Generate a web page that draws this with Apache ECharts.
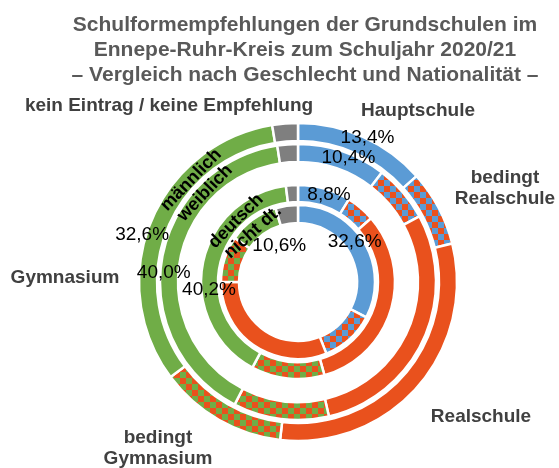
<!DOCTYPE html>
<html>
<head>
<meta charset="utf-8">
<script src="https://cdn.jsdelivr.net/npm/echarts@6/dist/echarts.min.js"></script>
<style>
  html, body { margin: 0; padding: 0; background: #fff; }
  #chart { width: 559px; height: 468px; }
</style>
</head>
<body>
<div id="chart"></div>
<script>
// Kategorien (im Uhrzeigersinn ab 12 Uhr)
const categories = ['Hauptschule', 'bedingt Realschule', 'Realschule', 'bedingt Gymnasium', 'Gymnasium', 'kein Eintrag / keine Empfehlung']
const rings = ['männlich', 'weiblich', 'deutsch', 'nicht dt.']

// Anteile in Prozent je Ring
const maennlich = [13.4, 7.7, 30.7, 13.0, 32.6, 2.6]
const weiblich = [10.4, 6.7, 29.3, 11.2, 40.0, 2.4]
const deutsch = [8.8, 4.8, 32.0, 12.2, 40.2, 2.0]
const nichtDt = [32.6, 11.4, 31.0, 9.7, 10.6, 4.7]

const BLUE = '#5B9BD5'
const ORANGE = '#E9511D'
const GREEN = '#70AD47'
const GRAY = '#7F7F7F'

// Schachbrettmuster für "bedingt ..."
function checker(c1, c2) {
  const size = 6
  const cv = document.createElement('canvas')
  cv.width = size * 2
  cv.height = size * 2
  const ctx = cv.getContext('2d')
  ctx.fillStyle = c1
  ctx.fillRect(0, 0, size * 2, size * 2)
  ctx.fillStyle = c2
  ctx.fillRect(size, 0, size, size)
  ctx.fillRect(0, size, size, size)
  return { image: cv, repeat: 'repeat' }
}

const colors = [BLUE, checker(BLUE, ORANGE), ORANGE, checker(GREEN, ORANGE), GREEN, GRAY]

const center = [298, 282]
const radii = [[141, 159], [120, 138], [80, 97], [59, 77]]
// Versatz der Prozentangaben (Hauptschule, Gymnasium)
const labelOffsets = [
  [[7, -5], [-14, 10]],
  [[8, 1], [-4, 12]],
  [[6, 1], [1, 24]],
  [[-4, -3], [23, 21]]
]

function buildSeries(name, values, idx) {
  return {
    name: name,
    type: 'pie',
    center: center,
    radius: radii[idx],
    startAngle: 90,
    clockwise: true,
    silent: true,
    animation: false,
    avoidLabelOverlap: false,
    labelLayout: { hideOverlap: false },
    z: 2,
    labelLine: { show: false },
    itemStyle: { borderColor: '#fff', borderWidth: 2.5 },
    data: values.map((v, i) => {
      const showLabel = i === 0 || i === 4
      return {
        name: categories[i],
        value: v,
        itemStyle: { color: colors[i] },
        label: {
          show: showLabel,
          position: 'inside',
          offset: showLabel ? labelOffsets[idx][i === 0 ? 0 : 1] : [0, 0],
          formatter: p => p.value.toFixed(1).replace('.', ',') + '%',
          color: '#000',
          fontFamily: 'Liberation Sans, Arial',
          fontSize: 19
        }
      }
    })
  }
}

const catLabel = (text, x, y) => ({
  type: 'text',
  x: x,
  y: y,
  z: 100,
  style: {
    text: text,
    textAlign: 'center',
    textVerticalAlign: 'middle',
    fill: '#404040',
    font: 'bold 19px "Liberation Sans", Arial',
    lineHeight: 21
  }
})

// Ringbeschriftung, entlang des Bogens gedreht (nach rechts oben lesend)
const ringLabel = (text, x, y, deg) => ({
  type: 'text',
  x: x,
  y: y,
  z: 100,
  rotation: deg * Math.PI / 180,
  style: {
    text: text,
    textAlign: 'center',
    textVerticalAlign: 'middle',
    fill: '#000',
    font: 'bold 18px "Liberation Sans", Arial'
  }
})

const chart = echarts.init(document.getElementById('chart'), null, { renderer: 'canvas' })
chart.setOption({
  backgroundColor: '#fff',
  animation: false,
  title: {
    text: 'Schulformempfehlungen der Grundschulen im\nEnnepe-Ruhr-Kreis zum Schuljahr 2020/21\n– Vergleich nach Geschlecht und Nationalität –',
    left: 300,
    top: 8,
    textAlign: 'center',
    textStyle: {
      color: '#595959',
      fontFamily: 'Liberation Sans, Arial',
      fontWeight: 'bold',
      fontSize: 21,
      lineHeight: 25
    }
  },
  graphic: [
    catLabel(categories[5], 169, 106),
    catLabel(categories[0], 418, 111),
    catLabel('bedingt\nRealschule', 505, 188),
    catLabel(categories[2], 481, 417),
    catLabel('bedingt\nGymnasium', 158, 448),
    catLabel(categories[4], 65, 278),
    ringLabel(rings[0], 191, 180, 46),
    ringLabel(rings[1], 205, 193, 46),
    ringLabel(rings[2], 236, 221, 45),
    ringLabel(rings[3], 253, 232, 42)
  ],
  series: [
    buildSeries(rings[0], maennlich, 0),
    buildSeries(rings[1], weiblich, 1),
    buildSeries(rings[2], deutsch, 2),
    buildSeries(rings[3], nichtDt, 3)
  ]
})
</script>
</body>
</html>
